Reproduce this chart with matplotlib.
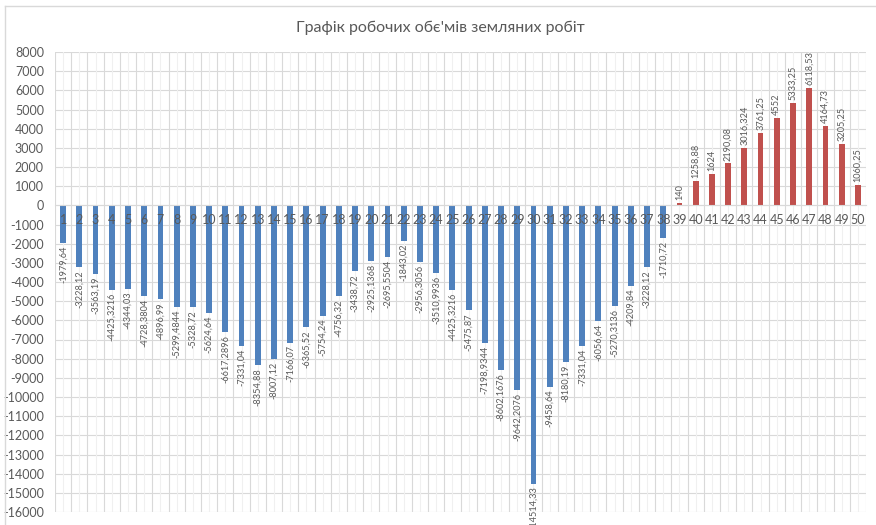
import matplotlib

matplotlib.use("Agg")
import matplotlib.pyplot as plt
from matplotlib.lines import Line2D
import numpy as np

# Volumes per section, cut (negative) and fill (positive)
sections = list(range(1, 51))
volumes = [
    -1979.64, -3228.12, -3563.19, -4425.3216, -4344.03,
    -4728.3804, -4896.99, -5299.4844, -5328.72, -5624.64,
    -6617.2896, -7331.04, -8354.88, -8007.12, -7166.07,
    -6365.52, -5754.24, -4756.32, -3438.72, -2925.1368,
    -2695.5504, -1843.02, -2956.3056, -3510.9936, -4425.3216,
    -5475.87, -7198.9344, -8602.1676, -9642.2076, -14514.33,
    -9458.64, -8180.19, -7331.04, -6056.64, -5270.3136,
    -4209.84, -3228.12, -1710.72, 140, 1258.88,
    1624, 2190.08, 3016.324, 3761.25, 4552,
    5333.25, 6118.53, 4164.73, 3205.25, 1060.25,
]
y_ticks = list(range(-16000, 8001, 1000))
title = "Графік робочих обє'мів земляних робіт"

CUT_COLOR = "#4F81BD"
FILL_COLOR = "#C0504D"
TEXT_COLOR = "#595959"
GRID_COLOR = "#D9D9D9"
MINOR_GRID = "#F0F0F0"

plt.rcParams["font.family"] = ["Lato", "DejaVu Sans"]


def fmt(v: float) -> str:
    s = ("%.4f" % v).rstrip("0").rstrip(".")
    return s.replace(".", ",")


fig = plt.figure(figsize=(8.76, 5.25), dpi=100)
ax = fig.add_axes([55 / 876, 1 - 512 / 525, 811 / 876, 460 / 525])

x = np.arange(len(sections))
n = len(sections)

# grid lines drawn by hand so they stay under the bars while tick labels stay on top
for t in y_ticks:
    ax.axhline(t, color=GRID_COLOR, linewidth=0.8, zorder=0)
for xi in x:
    ax.axvline(xi, color=MINOR_GRID, linewidth=0.8, zorder=0)
for b in np.arange(-0.5, n, 1.0):
    ax.axvline(b, color=GRID_COLOR, linewidth=0.8, zorder=0)

colors = [CUT_COLOR if v < 0 else FILL_COLOR for v in volumes]
ax.bar(x, volumes, width=0.36, color=colors, zorder=2)

for xi, v in zip(x, volumes):
    below = v < 0
    ax.annotate(fmt(v), (xi, v), xytext=(0, -2 if below else 2), textcoords="offset points",
                rotation=90, ha="center", va="top" if below else "bottom", fontsize=6.6,
                color=TEXT_COLOR, annotation_clip=False)

ax.set_xlim(-0.5, n - 0.5)
ax.set_ylim(y_ticks[0], y_ticks[-1])
ax.set_yticks(y_ticks)
ax.set_yticklabels([str(t) for t in y_ticks])

# category axis sits on the zero line, labels drawn over the bars
ax.set_axisbelow(False)
ax.set_xticks(x)
ax.set_xticklabels([str(s) for s in sections])
ax.spines["bottom"].set_position(("data", 0))
ax.spines["bottom"].set_color(GRID_COLOR)
for side in ("top", "right", "left"):
    ax.spines[side].set_visible(False)
ax.tick_params(axis="x", length=0, labelsize=9, labelcolor=TEXT_COLOR, pad=6)
ax.tick_params(axis="y", length=0, labelsize=9, labelcolor=TEXT_COLOR, pad=8)

fig.text(440 / 876, 1 - 28 / 525, title, ha="center", va="center",
         fontsize=11.5, color=TEXT_COLOR)

# chart area frame (left and top edges)
fig.add_artist(Line2D([5 / 876, 5 / 876], [0, 1 - 6 / 525], transform=fig.transFigure,
                      color=GRID_COLOR, linewidth=1))
fig.add_artist(Line2D([5 / 876, 1], [1 - 6 / 525, 1 - 6 / 525], transform=fig.transFigure,
                      color=GRID_COLOR, linewidth=1))

fig.savefig("out.png", dpi=100)
plt.close(fig)
